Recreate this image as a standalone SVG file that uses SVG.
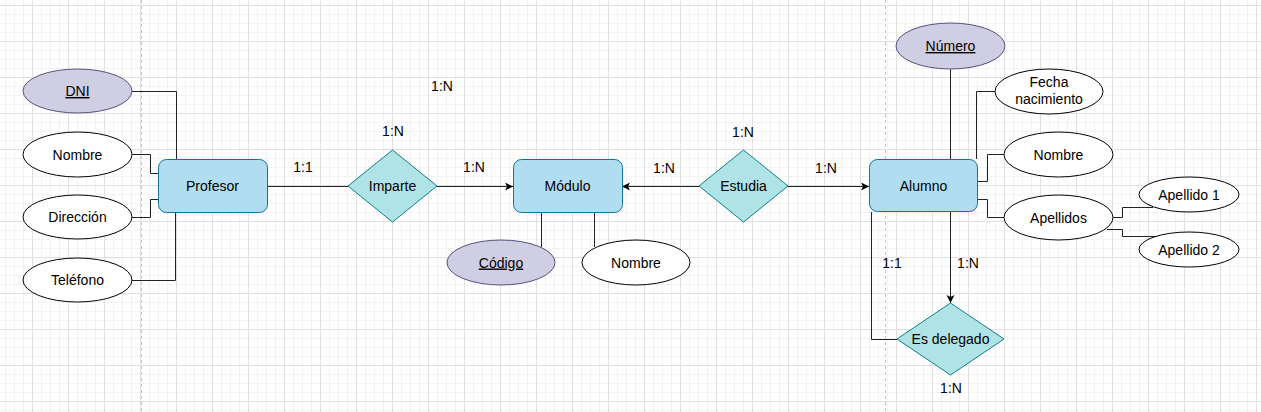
<svg xmlns="http://www.w3.org/2000/svg" width="1261" height="412" viewBox="0 0 1261 412">
<defs>
<pattern id="grid" x="-4" y="5" width="36" height="36" patternUnits="userSpaceOnUse">
<path d="M9.5,0 V36 M18.5,0 V36 M27.5,0 V36 M0,9.5 H36 M0,18.5 H36 M0,27.5 H36" stroke="#f3f3f3" stroke-width="1" fill="none"/>
<path d="M0.5,0 V36 M0,0.5 H36" stroke="#e0e0e0" stroke-width="1" fill="none"/>
</pattern>
<marker id="arr" markerWidth="10" markerHeight="10" refX="8" refY="4" orient="auto" markerUnits="userSpaceOnUse">
<path d="M0,0 L8,4 L0,8 L2,4 z" fill="#000"/>
</marker>
</defs>
<style>
.ent{fill:#b1ddf0;stroke:#10739e;stroke-width:1}
.rel{fill:#b0e3e6;stroke:#0e8088;stroke-width:1}
.key{fill:#d0cee2;stroke:#56517e;stroke-width:1}
.att{fill:#ffffff;stroke:#000000;stroke-width:1}
.t{font-family:"Liberation Sans",Arial,sans-serif;font-size:14px;fill:#000;text-anchor:middle}
.u{text-decoration:underline}
.c{fill:none;stroke:#222;stroke-width:1}
.pg{stroke:#c8c8c8;stroke-width:1;stroke-dasharray:3,3}
</style>
<rect width="1261" height="412" fill="#fff"/>
<rect width="1261" height="412" fill="url(#grid)"/>
<line class="pg" x1="141.5" y1="0" x2="141.5" y2="412"/>
<line class="pg" x1="885.5" y1="0" x2="885.5" y2="412"/>

<g id="connectors">
<path class="c" d="M132,91.5 H176.5 V159"/>
<path class="c" d="M132,154.5 H150.5 V173.5 H158"/>
<path class="c" d="M132,217.5 H150.5 V199.5 H158"/>
<path class="c" d="M132,280.5 H175.5 V213"/>
<path class="c" d="M267,186.5 H348"/>
<path class="c" d="M437,186.5 H513" marker-end="url(#arr)"/>
<path class="c" d="M699,186.5 H622" marker-end="url(#arr)"/>
<path class="c" d="M788,186.5 H869" marker-end="url(#arr)"/>
<path class="c" d="M541.5,213 V247"/>
<path class="c" d="M594.5,213 V247"/>
<path class="c" d="M950.5,69 V159"/>
<path class="c" d="M950.5,212 V303" marker-end="url(#arr)"/>
<path class="c" d="M871.5,212 V339.5 H897"/>
<path class="c" d="M976.5,159 V91.5 H995"/>
<path class="c" d="M978,181.5 H987.5 V154.5 H1004"/>
<path class="c" d="M978,199.5 H987.5 V217.5 H1004"/>
<path class="c" d="M1113,217.5 H1122.5 V207.5 H1153"/>
<path class="c" d="M1107,229.5 H1122.5 V236.5 H1160"/>
</g>

<g id="labels">
<text class="t" x="303" y="172">1:1</text>
<text class="t" x="393" y="136">1:N</text>
<text class="t" x="442" y="91">1:N</text>
<text class="t" x="474" y="172">1:N</text>
<text class="t" x="664" y="173">1:N</text>
<text class="t" x="743" y="137">1:N</text>
<text class="t" x="826" y="173">1:N</text>
<text class="t" x="892" y="268">1:1</text>
<text class="t" x="968" y="268">1:N</text>
<text class="t" x="951" y="393">1:N</text>
</g>

<g id="profesor"><rect class="ent" x="158.5" y="159.5" width="109" height="53" rx="8"/><text class="t" x="212.5" y="191">Profesor</text></g>
<g id="dni"><ellipse class="key" cx="77.5" cy="91" rx="54.5" ry="22"/><text class="t u" x="77.5" y="96">DNI</text></g>
<g id="prof-nombre"><ellipse class="att" cx="77.5" cy="154.5" rx="54.5" ry="22.5"/><text class="t" x="77.5" y="159.5">Nombre</text></g>
<g id="prof-direccion"><ellipse class="att" cx="77.5" cy="217" rx="54.5" ry="22"/><text class="t" x="77.5" y="222">Dirección</text></g>
<g id="prof-telefono"><ellipse class="att" cx="77.5" cy="280" rx="54.5" ry="22"/><text class="t" x="77.5" y="285">Teléfono</text></g>

<g id="imparte"><polygon class="rel" points="392.5,150 437,186 392.5,222 348,186"/><text class="t" x="392.5" y="191">Imparte</text></g>

<g id="modulo"><rect class="ent" x="513.5" y="159.5" width="109" height="53" rx="8"/><text class="t" x="567.5" y="191">Módulo</text></g>
<g id="codigo"><ellipse class="key" cx="501" cy="262.5" rx="54" ry="22.5"/><text class="t u" x="501" y="267.5">Código</text></g>
<g id="mod-nombre"><ellipse class="att" cx="636" cy="262.5" rx="54" ry="22.5"/><text class="t" x="636" y="267.5">Nombre</text></g>

<g id="estudia"><polygon class="rel" points="743.5,150 788,186 743.5,222 699,186"/><text class="t" x="743.5" y="191">Estudia</text></g>

<g id="alumno"><rect class="ent" x="869.5" y="159.5" width="108" height="52" rx="8"/><text class="t" x="923.5" y="191">Alumno</text></g>
<g id="numero"><ellipse class="key" cx="950.5" cy="46" rx="54.5" ry="23"/><text class="t u" x="950.5" y="51">Número</text></g>
<g id="fecha"><ellipse class="att" cx="1049" cy="91.5" rx="54" ry="22.5"/><text class="t" x="1049" y="87">Fecha</text><text class="t" x="1049" y="104">nacimiento</text></g>
<g id="alu-nombre"><ellipse class="att" cx="1058.5" cy="154.5" rx="54.5" ry="22.5"/><text class="t" x="1058.5" y="159.5">Nombre</text></g>
<g id="apellidos"><ellipse class="att" cx="1058.5" cy="217.5" rx="54.5" ry="22.5"/><text class="t" x="1058.5" y="222.5">Apellidos</text></g>
<g id="apellido1"><ellipse class="att" cx="1189" cy="194.5" rx="50" ry="17.5"/><text class="t" x="1189" y="199.5">Apellido 1</text></g>
<g id="apellido2"><ellipse class="att" cx="1189" cy="249.5" rx="50" ry="17.5"/><text class="t" x="1189" y="254.5">Apellido 2</text></g>

<g id="es-delegado"><polygon class="rel" points="950.5,303 1004,339 950.5,375 897,339"/><text class="t" x="950.5" y="344">Es delegado</text></g>
</svg>
